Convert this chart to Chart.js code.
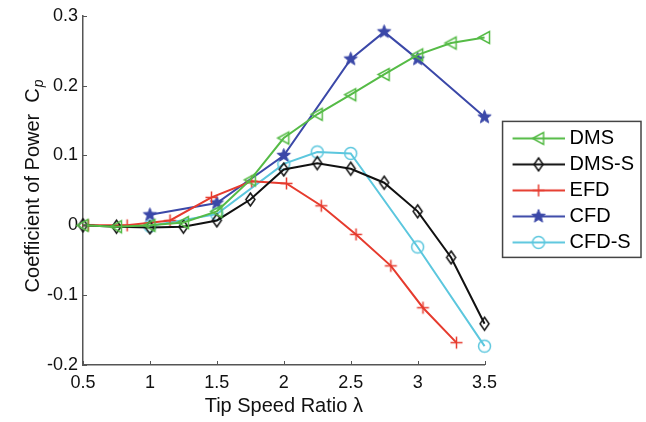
<!DOCTYPE html>
<html>
<head>
<meta charset="utf-8">
<script src="https://cdn.jsdelivr.net/npm/chart.js@4.4.1/dist/chart.umd.min.js"></script>
<style>
  html, body { margin: 0; padding: 0; background: #fff; }
</style>
</head>
<body>
<canvas id="cpChart" width="646" height="422"></canvas>
<script>
// values
const dmsX = [0.5, 0.75, 1, 1.25, 1.5, 1.75, 2, 2.25, 2.5, 2.75, 3, 3.25, 3.5];
const dmsY = [0, -0.002, 0, 0.004, 0.02, 0.065, 0.125, 0.159, 0.187, 0.216, 0.244, 0.261, 0.269];
const dmsSX = [0.5, 0.75, 1, 1.25, 1.5, 1.75, 2, 2.25, 2.5, 2.75, 3, 3.25, 3.5];
const dmsSY = [0, -0.002, -0.003, -0.002, 0.007, 0.037, 0.08, 0.089, 0.081, 0.061, 0.02, -0.046, -0.141];
const efdX = [0.54, 0.83, 1.15, 1.46, 1.76, 2.02, 2.28, 2.54, 2.8, 3.04, 3.29];
const efdY = [0, 0, 0.007, 0.04, 0.063, 0.06, 0.028, -0.013, -0.058, -0.118, -0.168];
const cfdX = [1, 1.5, 2, 2.5, 2.75, 3, 3.5];
const cfdY = [0.015, 0.032, 0.1, 0.238, 0.277, 0.238, 0.155];
const cfdSX = [1, 1.5, 2, 2.25, 2.5, 3, 3.5];
const cfdSY = [-0.001, 0.016, 0.088, 0.105, 0.103, -0.031, -0.173];

const xTickLabels = ['0.5', '1', '1.5', '2', '2.5', '3', '3.5'];
const yTickLabels = ['-0.2', '-0.1', '0', '0.1', '0.2', '0.3'];

const FONT = "'Liberation Sans', Arial, sans-serif";

function drawMarker(ctx, kind, cx, cy, color) {
    ctx.strokeStyle = color;
    ctx.fillStyle = color;
    ctx.lineWidth = 1.5;
    ctx.beginPath();
    if (kind === 'triLeft') {
        ctx.moveTo(cx - 6, cy);
        ctx.lineTo(cx + 5, cy - 6);
        ctx.lineTo(cx + 5, cy + 6);
        ctx.closePath();
        ctx.stroke();
    } else if (kind === 'diamond') {
        ctx.moveTo(cx, cy - 6.5);
        ctx.lineTo(cx + 4.5, cy);
        ctx.lineTo(cx, cy + 6.5);
        ctx.lineTo(cx - 4.5, cy);
        ctx.closePath();
        ctx.stroke();
    } else if (kind === 'plus') {
        ctx.moveTo(cx - 6, cy);
        ctx.lineTo(cx + 6, cy);
        ctx.moveTo(cx, cy - 6);
        ctx.lineTo(cx, cy + 6);
        ctx.stroke();
    } else if (kind === 'star') {
        for (let i = 0; i < 10; i++) {
            const r = i % 2 === 0 ? 7 : 3;
            const a = -Math.PI / 2 + i * Math.PI / 5;
            const px = cx + r * Math.cos(a), py = cy + r * Math.sin(a);
            if (i === 0) ctx.moveTo(px, py); else ctx.lineTo(px, py);
        }
        ctx.closePath();
        ctx.fill();
        ctx.lineWidth = 1;
        ctx.stroke();
    } else if (kind === 'circle') {
        ctx.arc(cx, cy, 6, 0, Math.PI * 2);
        ctx.stroke();
    }
}

function markerImage(kind, color) {
    const c = document.createElement('canvas');
    c.width = 17; c.height = 17;
    drawMarker(c.getContext('2d'), kind, 8.5, 8.5, color);
    return c;
}

function legendIcon(kind, color) {
    const c = document.createElement('canvas');
    c.width = 79; c.height = 17;
    const ctx = c.getContext('2d');
    ctx.strokeStyle = color;
    ctx.lineWidth = 2;
    ctx.beginPath();
    ctx.moveTo(27, 8.5);
    ctx.lineTo(79, 8.5);
    ctx.stroke();
    drawMarker(ctx, kind, 53, 8.5, color);
    return c;
}

function toPoints(xs, ys) {
    return xs.map((x, i) => ({ x: x, y: ys[i] }));
}

const series = [
    { label: 'DMS', xs: dmsX, ys: dmsY, color: '#55bb46', marker: 'triLeft' },
    { label: 'DMS-S', xs: dmsSX, ys: dmsSY, color: '#111111', marker: 'diamond' },
    { label: 'EFD', xs: efdX, ys: efdY, color: '#e63b2e', marker: 'plus' },
    { label: 'CFD', xs: cfdX, ys: cfdY, color: '#3b48a8', marker: 'star' },
    { label: 'CFD-S', xs: cfdSX, ys: cfdSY, color: '#5cc7de', marker: 'circle' }
];

const datasets = series.map(s => ({
    label: s.label,
    data: toPoints(s.xs, s.ys),
    borderColor: s.color,
    backgroundColor: s.color,
    borderWidth: 2,
    pointStyle: markerImage(s.marker, s.color),
    legendIcon: legendIcon(s.marker, s.color),
    pointRadius: 6,
    clip: false,
    tension: 0
}));

// inward tick marks, legend frame, y axis title with subscript
const extras = {
    id: 'extras',
    afterDraw(chart) {
        const ctx = chart.ctx;
        const xs = chart.scales.x, ys = chart.scales.y;
        const area = chart.chartArea;
        ctx.save();
        ctx.strokeStyle = '#555';
        ctx.lineWidth = 1;
        ctx.beginPath();
        xs.ticks.forEach(t => {
            const px = Math.round(xs.getPixelForValue(t.value)) + 0.5;
            ctx.moveTo(px, area.bottom);
            ctx.lineTo(px, area.bottom - 4);
        });
        ys.ticks.forEach(t => {
            const py = Math.round(ys.getPixelForValue(t.value)) + 0.5;
            ctx.moveTo(area.left, py);
            ctx.lineTo(area.left + 4, py);
        });
        ctx.stroke();

        const lg = chart.legend;
        const boxes = lg.legendHitBoxes;
        if (boxes && boxes.length) {
            const top = boxes[0].top - 7;
            const last = boxes[boxes.length - 1];
            const bottom = last.top + last.height + 5;
            ctx.strokeStyle = '#444';
            ctx.lineWidth = 1.5;
            ctx.strokeRect(lg.left + 18, top, lg.right - lg.left - 21, bottom - top);
        }

        const main = 'Coefficient of Power  C';
        ctx.fillStyle = '#111';
        ctx.font = '20px ' + FONT;
        const w1 = ctx.measureText(main).width;
        ctx.font = 'italic 14px ' + FONT;
        const w2 = ctx.measureText('p').width;
        const cy = (area.top + area.bottom) / 2 - 4;
        ctx.translate(33, cy);
        ctx.rotate(-Math.PI / 2);
        const start = -(w1 + w2) / 2;
        ctx.textBaseline = 'middle';
        ctx.textAlign = 'left';
        ctx.font = '20px ' + FONT;
        ctx.fillText(main, start, 0);
        ctx.font = 'italic 14px ' + FONT;
        ctx.fillText('p', start + w1 + 1, 6);
        ctx.restore();
    }
};

new Chart(document.getElementById('cpChart').getContext('2d'), {
    type: 'line',
    data: { datasets: datasets },
    options: {
        responsive: false,
        animation: false,
        events: [],
        layout: { padding: { top: 15, right: 2, bottom: 0, left: 0 } },
        plugins: {
            tooltip: { enabled: false },
            legend: {
                position: 'right',
                fullSize: false,
                labels: {
                    usePointStyle: true,
                    pointStyleWidth: 69,
                    boxHeight: 17,
                    padding: 6,
                    color: '#111',
                    font: { family: FONT, size: 20, lineHeight: 1 },
                    generateLabels(chart) {
                        return chart.data.datasets.map((d, i) => ({
                            text: d.label,
                            pointStyle: d.legendIcon,
                            fillStyle: d.borderColor,
                            strokeStyle: d.borderColor,
                            lineWidth: 0,
                            hidden: false,
                            datasetIndex: i
                        }));
                    }
                }
            }
        },
        scales: {
            x: {
                type: 'linear',
                min: 0.5,
                max: 3.5,
                grid: { display: false, drawTicks: false },
                border: { display: true, color: '#555', width: 1.5 },
                ticks: {
                    stepSize: 0.5,
                    autoSkip: false,
                    maxRotation: 0,
                    padding: 7,
                    color: '#111',
                    font: { family: FONT, size: 18 },
                    callback: (v, i) => xTickLabels[i]
                },
                title: {
                    display: true,
                    text: 'Tip Speed Ratio λ',
                    color: '#111',
                    font: { family: FONT, size: 20 },
                    padding: { top: 0, bottom: 4 }
                },
                afterFit(scale) { scale.height = 57; }
            },
            y: {
                min: -0.2,
                max: 0.3,
                grid: { display: false, drawTicks: false },
                border: { display: true, color: '#555', width: 1.5 },
                ticks: {
                    stepSize: 0.1,
                    padding: 5,
                    color: '#111',
                    font: { family: FONT, size: 18 },
                    callback: (v, i) => yTickLabels[i]
                },
                afterFit(scale) { scale.width = 83; }
            }
        }
    },
    plugins: [extras]
});
</script>
</body>
</html>
